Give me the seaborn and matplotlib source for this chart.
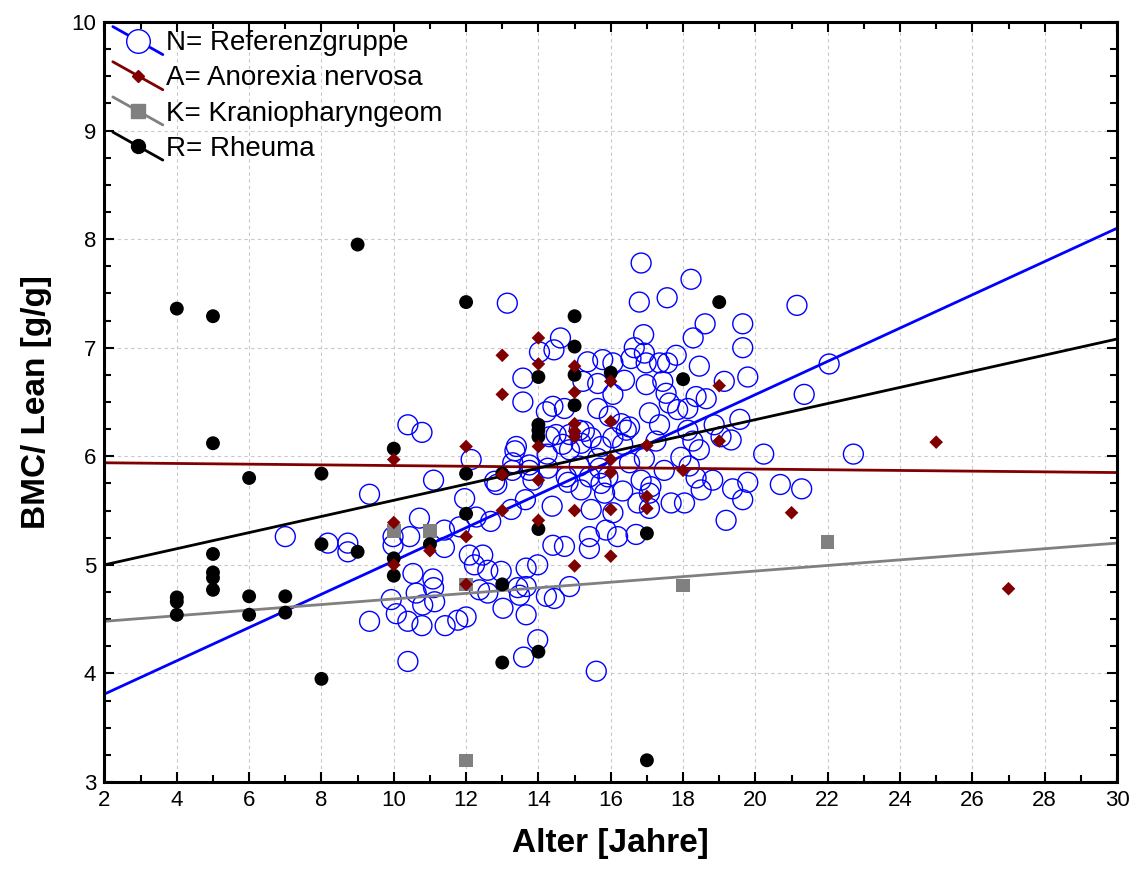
import numpy as np
import pandas as pd
import matplotlib
matplotlib.use("Agg")
import matplotlib.pyplot as plt
import seaborn as sns
from matplotlib.lines import Line2D
from matplotlib.legend_handler import HandlerLine2D
from matplotlib.ticker import MultipleLocator

# ---------------- data ----------------
group_labels = ["N= Referenzgruppe", "A= Anorexia nervosa", "K= Kraniopharyngeom", "R= Rheuma"]

ref_age = [7.00, 8.18, 8.73, 8.73, 9.33, 9.33, 9.98, 9.98, 9.93, 10.07, 10.39, 10.39, 10.39, 10.78,
           10.44, 10.71, 10.53, 10.62, 10.80, 10.78, 11.08, 11.10, 11.10, 11.40, 11.40, 11.42, 11.13,
           11.82, 11.96, 12.14, 11.77, 12.00, 12.28, 12.68, 12.09, 12.46, 12.23, 12.60, 12.97, 12.37,
           12.60, 13.02, 12.79, 12.85, 13.28, 13.75, 13.25, 13.64, 13.43, 13.66, 13.66, 13.98, 13.66,
           13.48, 14.22, 13.98, 13.59, 14.40, 14.38, 13.14, 13.57, 13.57, 14.03, 14.43, 14.61, 14.22,
           14.40, 14.72, 14.31, 14.24, 13.39, 13.35, 13.29, 13.75, 13.85, 14.26, 14.49, 14.86, 14.67,
           14.86, 15.13, 15.27, 15.46, 15.18, 15.73, 15.64, 15.13, 14.77, 14.82, 15.41, 15.69, 15.92,
           15.18, 15.73, 15.83, 15.46, 16.06, 15.87, 15.41, 15.41, 16.19, 16.70, 14.72, 14.86, 14.44,
           15.60, 15.36, 15.78, 16.06, 16.56, 15.64, 15.23, 15.64, 15.96, 16.06, 16.06, 16.29, 16.52,
           16.43, 16.33, 16.93, 16.52, 16.33, 16.84, 16.75, 17.07, 17.11, 17.07, 16.38, 16.98, 16.98,
           16.93, 16.65, 16.91, 16.79, 16.84, 17.56, 18.22, 18.61, 18.28, 17.81, 17.57, 18.45, 17.35,
           17.44, 17.53, 18.36, 18.64, 17.07, 17.62, 17.85, 18.13, 17.35, 18.13, 18.27, 18.86, 19.05,
           17.25, 17.94, 18.45, 17.48, 18.17, 18.36, 18.82, 18.50, 17.67, 18.04, 19.19, 19.14, 19.65,
           19.65, 19.79, 19.57, 19.33, 20.23, 19.79, 19.37, 19.65, 20.69, 21.28, 21.15, 22.04, 21.35,
           22.71]
ref_val = [5.26, 5.20, 5.20, 5.12, 5.65, 4.48, 5.26, 5.18, 4.68, 4.55, 4.48, 4.11, 6.29, 6.22,
           5.26, 5.43, 4.92, 4.74, 4.63, 4.44, 4.87, 4.79, 5.78, 5.32, 5.16, 4.44, 4.66,
           5.35, 5.61, 5.97, 4.49, 4.52, 5.44, 5.40, 5.09, 5.09, 5.00, 4.95, 4.94, 4.77,
           4.74, 4.60, 5.77, 5.74, 5.87, 5.87, 5.51, 5.60, 4.79, 4.80, 4.97, 5.00, 4.54,
           4.72, 4.71, 4.31, 4.15, 5.18, 5.54, 7.41, 6.72, 6.50, 6.96, 6.98, 7.09, 6.41,
           6.46, 6.44, 6.18, 6.02, 6.09, 6.05, 5.94, 5.92, 5.78, 5.89, 6.20, 6.20, 6.11,
           6.06, 6.24, 6.23, 6.17, 6.12, 6.09, 5.98, 5.91, 5.81, 5.76, 5.81, 5.89, 5.81,
           5.69, 5.75, 5.66, 5.51, 5.48, 5.32, 5.26, 5.15, 5.26, 5.28, 5.17, 4.80, 4.69,
           4.02, 6.87, 6.89, 6.86, 6.90, 6.67, 6.69, 6.44, 6.37, 6.57, 6.17, 6.30, 6.27,
           6.24, 6.11, 5.98, 5.94, 5.68, 5.78, 5.57, 5.66, 5.72, 5.52, 6.70, 6.66, 6.86,
           6.95, 7.00, 7.12, 7.42, 7.78, 7.46, 7.63, 7.22, 7.09, 6.93, 6.86, 6.83, 6.86,
           6.69, 6.58, 6.55, 6.53, 6.40, 6.49, 6.43, 6.44, 6.29, 6.24, 6.14, 6.29, 6.18,
           6.14, 5.99, 6.06, 5.87, 5.91, 5.80, 5.78, 5.69, 5.57, 5.57, 5.41, 6.69, 7.22,
           7.00, 6.73, 6.34, 6.15, 6.02, 5.76, 5.70, 5.60, 5.74, 5.70, 7.39, 6.85, 6.57,
           6.02]

ano_age = [10, 10, 10, 11, 12, 12, 12, 13, 13, 13, 13, 14, 14, 14, 14, 14,
           15, 15, 15, 15, 15, 15, 15, 16, 16, 16, 16, 16, 16, 17, 17, 17, 18, 19, 19, 21, 25, 27]
ano_val = [5.97, 5.39, 5.00, 5.13, 6.09, 5.26, 4.82, 6.93, 6.57, 5.83, 5.50, 7.09, 6.85, 6.09, 5.78, 5.41,
           6.83, 6.59, 6.30, 6.23, 6.18, 5.50, 4.99, 6.69, 6.32, 5.97, 5.85, 5.51, 5.08, 6.10, 5.63, 5.52,
           5.87, 6.65, 6.14, 5.48, 6.13, 4.78]

kra_age = [10, 11, 12, 12, 18, 22]
kra_val = [5.31, 5.31, 4.82, 3.20, 4.81, 5.21]

rhe_age = [4, 4, 4, 4, 5, 5, 5, 5, 5, 5, 6, 6, 6, 7, 7, 8, 8, 8, 9, 9, 10, 10, 10, 11,
           12, 12, 12, 13, 13, 13, 14, 14, 14, 14, 14, 14, 15, 15, 15, 15, 16, 17, 17, 18, 19]
rhe_val = [7.36, 4.70, 4.66, 4.54, 7.29, 6.12, 5.10, 4.93, 4.88, 4.77, 5.80, 4.71, 4.54, 4.71, 4.56,
           5.84, 5.19, 3.95, 7.95, 5.12, 6.07, 5.06, 4.90, 5.19, 7.42, 5.84, 5.47, 5.84, 4.82, 4.10,
           6.73, 6.29, 6.24, 6.18, 5.33, 4.20, 7.29, 7.01, 6.75, 6.47, 6.77, 5.29, 3.20, 6.71, 7.42]

# fitted regression lines: value at age 2 and at age 30 (N, A, K, R)
fit_start = [3.81, 5.94, 4.48, 5.00]
fit_end = [8.10, 5.85, 5.20, 7.08]
fit_range = [2, 30]

colors = ["#0000FF", "#800000", "#808080", "#000000"]

# ---------------- figure ----------------
sns.set_theme(style="white")
plt.rcParams["font.family"] = ["Liberation Sans", "DejaVu Sans"]
plt.rcParams["text.color"] = "black"
plt.rcParams["axes.labelcolor"] = "black"
plt.rcParams["xtick.color"] = "black"
plt.rcParams["ytick.color"] = "black"

fig = plt.figure(figsize=(11.37, 8.86), dpi=100)
ax = fig.add_axes([0.0919, 0.1174, 0.8905, 0.8578])

ax.grid(True, which="major", color="#c8c8c8", linestyle=(0, (3, 3)), linewidth=0.8)
ax.set_axisbelow(True)

# regression lines
xs = np.linspace(fit_range[0], fit_range[1], 200)
for i in range(4):
    ys = fit_start[i] + (fit_end[i] - fit_start[i]) * (xs - fit_range[0]) / (fit_range[1] - fit_range[0])
    sns.lineplot(x=xs, y=ys, color=colors[i], linewidth=2.0, ax=ax, zorder=2.5)

sns.scatterplot(x=ref_age, y=ref_val, marker="o", s=205, facecolor="none",
                edgecolor=colors[0], linewidth=1.0, ax=ax, zorder=2)
sns.scatterplot(x=kra_age, y=kra_val, marker="s", s=95, color=colors[2],
                edgecolor="none", linewidth=0, ax=ax, zorder=3)
sns.scatterplot(x=rhe_age, y=rhe_val, marker="o", s=100, color=colors[3],
                edgecolor="none", linewidth=0, ax=ax, zorder=3.5)
sns.scatterplot(x=ano_age, y=ano_val, marker="D", s=48, color=colors[1],
                edgecolor="none", linewidth=0, ax=ax, zorder=4)

ax.set_xlim(2, 30)
ax.set_ylim(3, 10)
ax.xaxis.set_major_locator(MultipleLocator(2))
ax.xaxis.set_minor_locator(MultipleLocator(1))
ax.yaxis.set_major_locator(MultipleLocator(1))
ax.yaxis.set_minor_locator(MultipleLocator(0.25))
ax.tick_params(which="both", direction="in", top=True, right=True, bottom=True, left=True,
               color="black", width=1.5, labelcolor="black")
ax.tick_params(which="major", length=7, labelsize=16, pad=6)
ax.tick_params(which="minor", length=5)
for sp in ax.spines.values():
    sp.set_color("black")
    sp.set_linewidth(2.2)

ax.set_xlabel("Alter [Jahre]", fontsize=24, fontweight="bold", labelpad=12, color="black")
ax.set_ylabel("BMC/ Lean [g/g]", fontsize=24, fontweight="bold", labelpad=14, color="black")


class DiagHandler(HandlerLine2D):
    def create_artists(self, legend, orig_handle, xdescent, ydescent, width, height,
                       fontsize, trans):
        x0, x1 = -xdescent, -xdescent + width
        yc = -ydescent + height / 2.0
        dy = width * 0.28
        line = Line2D([x0, x1], [yc + dy, yc - dy], color=orig_handle.get_color(),
                      linewidth=orig_handle.get_linewidth())
        mk = Line2D([(x0 + x1) / 2], [yc], marker=orig_handle.get_marker(),
                    markersize=orig_handle.get_markersize(),
                    markerfacecolor=orig_handle.get_markerfacecolor(),
                    markeredgecolor=orig_handle.get_markeredgecolor(),
                    markeredgewidth=orig_handle.get_markeredgewidth(), linestyle="none")
        line.set_transform(trans)
        mk.set_transform(trans)
        return [line, mk]


handles = [
    Line2D([], [], color=colors[0], lw=2, marker="o", markersize=17, markerfacecolor="white",
           markeredgecolor=colors[0], markeredgewidth=1.0),
    Line2D([], [], color=colors[1], lw=2, marker="D", markersize=6, markerfacecolor=colors[1],
           markeredgecolor=colors[1]),
    Line2D([], [], color=colors[2], lw=2, marker="s", markersize=10, markerfacecolor=colors[2],
           markeredgecolor=colors[2]),
    Line2D([], [], color=colors[3], lw=2, marker="o", markersize=10, markerfacecolor=colors[3],
           markeredgecolor=colors[3]),
]
leg = ax.legend(handles, group_labels, loc="upper left", frameon=False, fontsize=20,
                handlelength=1.8, handletextpad=0.12, labelspacing=0.33, borderaxespad=0.0,
                borderpad=0.3, handler_map={Line2D: DiagHandler()})
leg.set_zorder(10)
for t in leg.get_texts():
    t.set_color("black")

fig.savefig("out.png", dpi=100)
